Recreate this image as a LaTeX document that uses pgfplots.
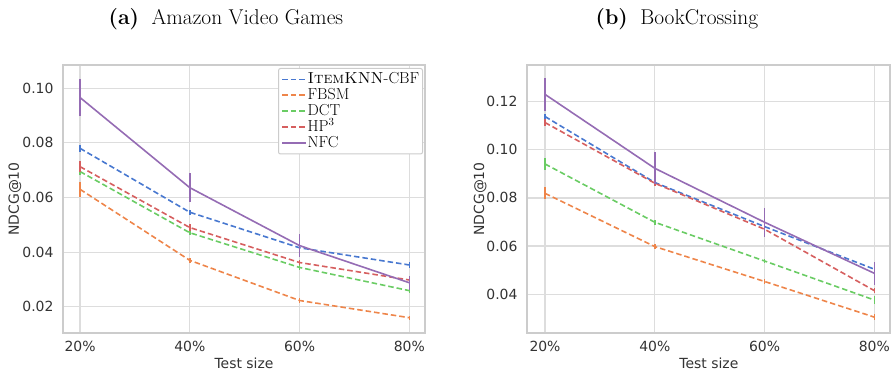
\documentclass[border=0pt]{standalone}
\usepackage{fontspec}
\setsansfont{DejaVu Sans}
\usepackage{pgfplots}
\pgfplotsset{compat=1.18}
\definecolor{cblue}{HTML}{4878D0}
\definecolor{corange}{HTML}{EE854A}
\definecolor{cgreen}{HTML}{6ACC64}
\definecolor{cred}{HTML}{D65F5F}
\definecolor{cpurple}{HTML}{956CB4}
\definecolor{gridc}{HTML}{DDDDDD}
\definecolor{framec}{HTML}{CCCCCC}
\definecolor{tickc}{HTML}{333333}
\newcommand{\tfont}{\sffamily\fontsize{14}{16}\selectfont}
\pgfplotsset{
  myaxis/.style={
    scale only axis,
    axis line style={framec, line width=1.2bp},
    grid=major,
    major grid style={gridc, line width=1.2bp},
    tick style={draw=none},
    xtick={0,1,2,3},
    xticklabels={20\%,40\%,60\%,80\%},
    xticklabel style={font=\tfont, text=tickc, yshift=-5bp},
    yticklabel style={font=\tfont, text=tickc, xshift=-6bp, /pgf/number format/fixed, /pgf/number format/fixed zerofill, /pgf/number format/precision=2, /pgf/number format/assume math mode=true},
    label style={font=\sffamily\fontsize{14}{16}\selectfont, text=tickc},
    xlabel={Test size},
    ylabel={NDCG@10},
    title style={font=\fontsize{21.5}{24}\selectfont, anchor=base},
    every axis plot/.append style={line width=1.6bp, mark=none},
    error bars/y dir=both, error bars/y explicit, error bars/error mark=none,
    error bars/error bar style={solid, line width=1.6bp},
  },
  dsh/.style={dash pattern=on 5.5bp off 3bp},
}
\begin{document}
\begin{tikzpicture}
\useasboundingbox (0,0) rectangle (891bp,372bp);
% ---------- (a) ----------
\begin{axis}[myaxis,
  at={(63bp,39bp)}, anchor=south west,
  width=362bp, height=268bp,
  xmin=-0.155, xmax=3.143, ymin=0.0104, ymax=0.1085,
  ytick={0.02,0.04,0.06,0.08,0.10},
  title={\textbf{(a)}\hspace{0.58em}Amazon Video Games},
  title style={at={(axis description cs:0.45,1.13)}},
  xlabel style={at={(axis description cs:0.5,-0.112)}, anchor=center},
  ylabel style={at={(axis description cs:-0.133,0.5)}, anchor=center, rotate=0},
  legend style={at={(rel axis cs:1,1)}, anchor=north east, xshift=-2bp, yshift=-3bp,
    draw=framec, line width=1bp, rounded corners=2bp, font=\fontsize{16}{16}\selectfont,
    nodes={inner sep=0.3bp, text height=12bp, text depth=3.3bp},
    row sep=0bp, inner sep=3bp, cells={anchor=west}},
  legend image code/.code={\draw[#1] (0bp,0bp) -- (24bp,0bp);},
]
\addplot[cblue, dsh, forget plot] coordinates {(0,0.0780)+-(0,0.0012) (1,0.0546)+-(0,0.0010) (2,0.0416)+-(0,0.0010) (3,0.0353)+-(0,0.0012)};
\addplot[corange, dsh, forget plot] coordinates {(0,0.0630)+-(0,0.0027) (1,0.0370)+-(0,0.0010) (2,0.0223)+-(0,0.0008) (3,0.0160)+-(0,0.0008)};
\addplot[cgreen, dsh, forget plot] coordinates {(0,0.0695)+-(0,0.0012) (1,0.0471)+-(0,0.0010) (2,0.0344)+-(0,0.0010) (3,0.0259)+-(0,0.0010)};
\addplot[cred, dsh, forget plot] coordinates {(0,0.0713)+-(0,0.0020) (1,0.0490)+-(0,0.0012) (2,0.0362)+-(0,0.0010) (3,0.0298)+-(0,0.0010)};
\addplot[cpurple, forget plot] coordinates {(0,0.0966)+-(0,0.0067) (1,0.0636)+-(0,0.0054) (2,0.0424)+-(0,0.0042) (3,0.0288)+-(0,0.0025)};
\addlegendimage{cblue, dsh, line width=1.8bp}
\addlegendentry{\textsc{ItemKNN}-CBF}
\addlegendimage{corange, dsh, line width=1.8bp}
\addlegendentry{FBSM}
\addlegendimage{cgreen, dsh, line width=1.8bp}
\addlegendentry{DCT}
\addlegendimage{cred, dsh, line width=1.8bp}
\addlegendentry{HP$^3$}
\addlegendimage{cpurple, line width=1.8bp}
\addlegendentry{NFC}
\end{axis}
% ---------- (b) ----------
\begin{axis}[myaxis,
  at={(527bp,39bp)}, anchor=south west,
  width=363bp, height=268bp,
  xmin=-0.164, xmax=3.143, ymin=0.0239, ymax=0.1352,
  ytick={0.04,0.06,0.08,0.10,0.12},
  title={\textbf{(b)}\hspace{0.58em}BookCrossing},
  title style={at={(axis description cs:0.413,1.13)}},
  xlabel style={at={(axis description cs:0.501,-0.112)}, anchor=center},
  ylabel style={at={(axis description cs:-0.129,0.5)}, anchor=center, rotate=0},
]
\addplot[cblue, dsh] coordinates {(0,0.1138)+-(0,0.0012) (1,0.0864)+-(0,0.0010) (2,0.0681)+-(0,0.0010) (3,0.0504)+-(0,0.0012)};
\addplot[corange, dsh] coordinates {(0,0.0819)+-(0,0.0025) (1,0.0598)+-(0,0.0012) (2,0.0453)+-(0,0.0010) (3,0.0305)+-(0,0.0012)};
\addplot[cgreen, dsh] coordinates {(0,0.0941)+-(0,0.0025) (1,0.0699)+-(0,0.0010) (2,0.0538)+-(0,0.0010) (3,0.0376)+-(0,0.0015)};
\addplot[cred, dsh] coordinates {(0,0.1113)+-(0,0.0015) (1,0.0861)+-(0,0.0010) (2,0.0670)+-(0,0.0010) (3,0.0415)+-(0,0.0010)};
\addplot[cpurple] coordinates {(0,0.1230)+-(0,0.0068) (1,0.0923)+-(0,0.0066) (2,0.0699)+-(0,0.0060) (3,0.0487)+-(0,0.0048)};
\end{axis}
\end{tikzpicture}
\end{document}
